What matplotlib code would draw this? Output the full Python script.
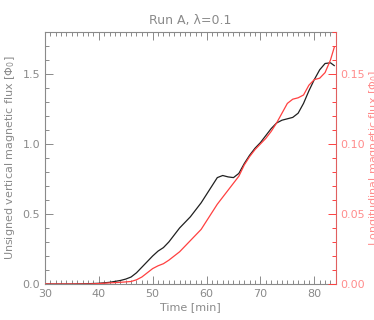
import numpy as np
import matplotlib
matplotlib.use("Agg")
import matplotlib.pyplot as plt
from matplotlib.ticker import MultipleLocator

# time [min]
t = [30, 35, 38, 40, 42, 44, 45, 46, 47, 48, 49, 50, 51, 52, 53, 54, 55, 56,
     57, 58, 59, 60, 61, 62, 63, 64, 65, 66, 67, 68, 69, 70, 71, 72, 73, 74,
     75, 76, 77, 78, 79, 80, 81, 82, 83, 83.7]
# unsigned vertical flux (left axis)
vert = [0.0, 0.0, 0.002, 0.005, 0.012, 0.025, 0.035, 0.05, 0.08, 0.12, 0.16,
        0.20, 0.235, 0.26, 0.30, 0.35, 0.40, 0.44, 0.48, 0.53, 0.58, 0.64,
        0.70, 0.76, 0.775, 0.765, 0.76, 0.79, 0.86, 0.92, 0.97, 1.01, 1.06,
        1.11, 1.15, 1.17, 1.18, 1.19, 1.22, 1.29, 1.38, 1.46, 1.53, 1.575,
        1.58, 1.56]
# longitudinal flux (right axis)
longi = [0.0, 0.0, 0.0, 0.0003, 0.0008, 0.0012, 0.0015, 0.0018, 0.003, 0.005,
         0.008, 0.011, 0.013, 0.0145, 0.017, 0.020, 0.023, 0.027, 0.031,
         0.035, 0.039, 0.045, 0.051, 0.057, 0.062, 0.067, 0.072, 0.077, 0.085,
         0.091, 0.096, 0.100, 0.104, 0.109, 0.115, 0.122, 0.129, 0.132, 0.133,
         0.135, 0.142, 0.146, 0.147, 0.151, 0.160, 0.169]

gray = '#8a8a8a'
red = '#ff4040'
lred = '#ff8c8c'

fig = plt.figure(figsize=(3.74, 3.2), dpi=100)
ax = fig.add_axes([0.120, 0.1125, 0.778, 0.7875])
ax2 = ax.twinx()

ax.plot(t, vert, color='#202020', lw=0.9)
ax2.plot(t, longi, color=red, lw=0.9)

ax.set_xlim(30, 84)
ax.set_ylim(0, 1.8)
ax2.set_ylim(0, 0.18)

ax.xaxis.set_major_locator(MultipleLocator(10))
ax.xaxis.set_minor_locator(MultipleLocator(1))
ax.yaxis.set_major_locator(MultipleLocator(0.5))
ax.yaxis.set_minor_locator(MultipleLocator(0.1))
ax2.yaxis.set_major_locator(MultipleLocator(0.05))
ax2.yaxis.set_minor_locator(MultipleLocator(0.01))
ax.yaxis.set_major_formatter(plt.FormatStrFormatter('%.1f'))
ax2.yaxis.set_major_formatter(plt.FormatStrFormatter('%.2f'))

ax.tick_params(which='both', direction='in', top=True, right=False,
               colors=gray, labelsize=8, width=0.7)
ax.tick_params(which='major', length=6)
ax.tick_params(which='minor', length=3)
ax2.tick_params(which='both', direction='in', colors=red, labelcolor=lred,
                labelsize=8, width=0.7)
ax2.tick_params(which='major', length=6)
ax2.tick_params(which='minor', length=3)

for s in ['left', 'top', 'bottom']:
    ax.spines[s].set_color(gray)
    ax2.spines[s].set_visible(False)
ax.spines['right'].set_visible(False)
ax2.spines['right'].set_color('#e06060')
for s in ax.spines.values():
    s.set_linewidth(0.8)
ax2.spines['right'].set_linewidth(0.8)

ax.set_title('Run A, \u03bb=0.1', color=gray, fontsize=9, pad=6)
ax.set_xlabel('Time [min]', color=gray, fontsize=8, labelpad=2)
ax.set_ylabel('Unsigned vertical magnetic flux [\u03a6$_0$]', color=gray,
              fontsize=8, labelpad=4)
ax2.set_ylabel('Longitudinal magnetic flux [\u03a6$_0$]', color=lred,
               fontsize=8, labelpad=1)

fig.savefig('out.png', dpi=100)
